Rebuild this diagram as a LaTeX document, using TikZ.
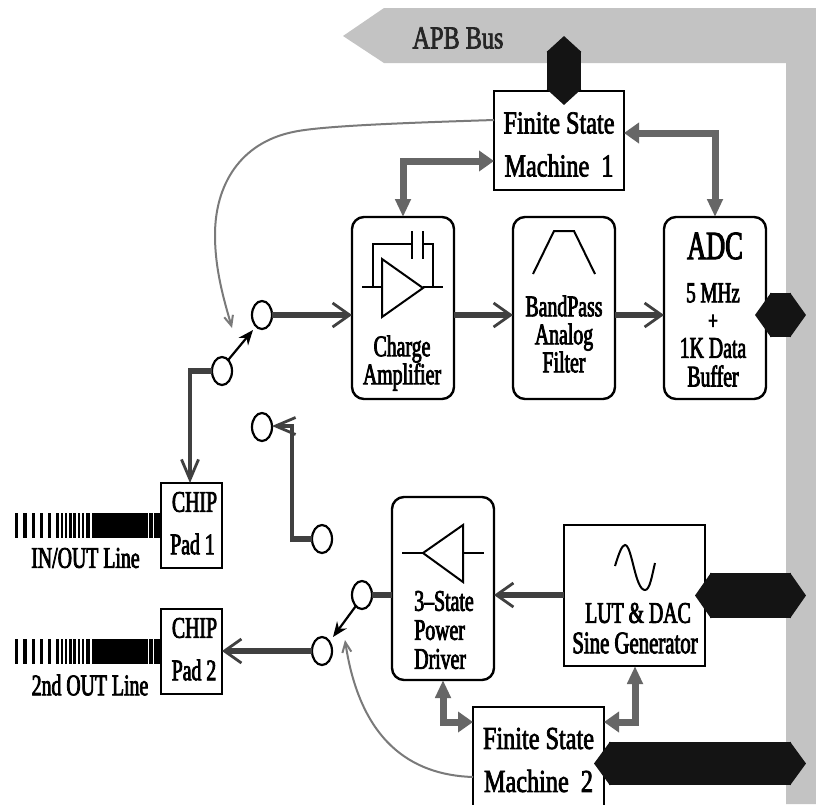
\documentclass[tikz,border=0pt]{standalone}
\usepackage{fontspec}
\setmainfont[FakeStretch=0.757,FakeBold=2.2]{Liberation Serif}
\newfontfamily\narrowf[FakeStretch=0.66,FakeBold=2.6]{Liberation Serif}
\usetikzlibrary{arrows.meta,calc,shapes.geometric}
\definecolor{busgray}{HTML}{C3C3C3}
\definecolor{ctrlgray}{HTML}{666666}
\definecolor{thingray}{HTML}{7A7A7A}
\definecolor{sig}{HTML}{404040}
\definecolor{inkblack}{HTML}{141414}
\newcommand{\fs}[1]{\fontsize{#1}{#1}\selectfont}
\newcommand{\ns}[1]{\narrowf\fontsize{#1}{#1}\selectfont}
\tikzset{
  x=1pt,y=-1pt,
  every node/.style={inner sep=0pt,outer sep=0pt},
  sq/.style={draw=black,line width=2.4pt,fill=white,rectangle},
  rnd/.style={draw=black,line width=2.4pt,fill=white,rectangle,rounded corners=12pt,minimum width=102pt,minimum height=182pt},
  txt/.style={align=center,font=\ns{30}},
  big/.style={align=center,font=\fontsize{32}{43}\selectfont},
  sw/.style={draw=black,line width=2.2pt,fill=white,ellipse,minimum width=20pt,minimum height=28pt},
  glyph/.style={draw=black,line width=2pt,line join=miter},
  sigline/.style={draw=sig,line width=6.5pt},
  sigthin/.style={draw=sig,line width=4.5pt},
  barb/.style={-{Straight Barb[length=17pt,width=24pt,line width=2.8pt]}},
  barbn/.style={-{Straight Barb[length=20pt,width=17pt,line width=2.8pt]}},
  ctrl/.style={draw=ctrlgray,line width=7pt},
  vh/.style={ctrl,{Triangle[length=18pt,width=15pt]}-{Triangle[length=15pt,width=20pt]}},
  ctrlw/.style={draw=thingray,line width=2pt,-{Straight Barb[length=10pt,width=9pt,line width=2pt]}},
  swarrow/.style={draw=black,line width=2.2pt,-{Stealth[length=15pt,width=12pt]}},
  hbus/.style={draw=inkblack,line width=#1,{Triangle[length=16pt,width=#1]}-{Triangle[length=16pt,width=#1]}},
}
\begin{document}
\begin{tikzpicture}
\useasboundingbox (0,0) rectangle (816,804);
\clip (0,0) rectangle (816,804);
\fill[white] (0,0) rectangle (816,804);
% bus
\fill[busgray] (343,36) -- (384,8) -- (816,8) -- (816,804) -- (786,804) -- (786,63) -- (384,63) -- cycle;
\node[font=\fs{32},text=black!85,anchor=center] (apb) at (458,38) {APB Bus};
% boxes
\node[sq,minimum width=130pt,minimum height=99pt] (fsm1) at (559,140.5) {};
\node[big] (fsm1t) at (559,144.5) {Finite State\\Machine\ \ 1};
\node[rnd] (charge) at (403,308) {};
\node[rnd] (filter) at (564,308) {};
\node[rnd] (adc) at (715,308) {};
\node[rnd,minimum height=183pt] (driver) at (443,588.5) {};
\node[sq,minimum width=141pt,minimum height=141pt] (lut) at (634.5,595.5) {};
\node[sq,minimum width=131pt,minimum height=120pt] (fsm2) at (538.5,767) {};
\node[big] (fsm2t) at (538.5,760) {Finite State\\Machine\ \ 2};
\node[sq,minimum width=61pt,minimum height=85pt] (pad1) at (191.5,525.5) {};
\node[sq,minimum width=61pt,minimum height=85pt] (pad2) at (191.5,651.5) {};
% labels
\node[txt] (chargeT) at (402,363) {Charge\\[-2pt]Amplifier};
\node[txt] (filterT) at (564,334) {BandPass\\[-2pt]Analog\\[-2pt]Filter};
\node[font=\ns{40}] (adcT) at (715,246) {ADC};
\node[font=\ns{29}] (adcA) at (713,293) {5 MHz};
\node[font=\ns{26}] (adcB) at (713,322) {+};
\node[font=\ns{30}] (adcC) at (713,348) {1K Data};
\node[font=\ns{30}] (adcD) at (713,376) {Buffer};
\node[txt,align=left] (driverT) at (444,630) {3–State\\[-1pt]Power\\[-1pt]Driver};
\node[font=\ns{30}] (lutA) at (638,613) {LUT \& DAC};
\node[font=\ns{31.5}] (lutB) at (635,643) {Sine Generator};
\node[font=\ns{30}] (pad1a) at (194.5,502) {CHIP};
\node[font=\ns{30}] (pad1b) at (192.5,544) {Pad 1};
\node[font=\ns{30}] (pad2a) at (194.5,628) {CHIP};
\node[font=\ns{30}] (pad2b) at (194,670) {Pad 2};
\node[font=\ns{30}] (l1) at (85.5,558) {IN/OUT Line};
\node[font=\ns{30}] (l2) at (90,685) {2nd OUT Line};
% stripes
\foreach \a/\b in {15/18.3,23.3/26.7,31.7/35,40/43.3,47.7/51,56/59.3,60.7/63.3,65/67.3,69.3/71.7,73.3/75.7,77.7/80,81.7/84,86/90,91.7/148.3,149.3/152.7,154/161}
  \fill[black] (\a,513) rectangle (\b,538);
\foreach \a/\b in {15/18.3,23.3/26.7,31.7/35,40/43.3,47.7/51,56/59.3,60.7/63.3,65/67.3,69.3/71.7,73.3/75.7,77.7/80,81.7/84,86/90,91.7/148.3,149.3/152.7,154/161}
  \fill[black] (\a,639) rectangle (\b,664);
% symbols
\draw[glyph] (382,259) -- (382,317) -- (423,288) -- cycle;
\draw[glyph] (362,287) -- (382,287) (423,287) -- (443,287);
\draw[glyph] (373,287) -- (373,244) -- (412,244) (412,231) -- (412,259);
\draw[glyph] (423,231) -- (423,259) (423,244) -- (433,244) -- (433,287);
\draw[glyph] (533,274) -- (554,231) -- (574,231) -- (595,274);
\draw[glyph] (463,525) -- (463,582) -- (423,553) -- cycle;
\draw[glyph] (402,553) -- (423,553) (463,553) -- (484,553);
\draw[glyph] (615,566) .. controls (619,553) and (622,545) .. (625,545) .. controls (632,545) and (635,590) .. (645,590) .. controls (650,590) and (652,575) .. (655,563);
% switches
\node[sw] (s1) at (262,315) {};
\node[sw] (s2) at (222,371) {};
\node[sw] (s3) at (262,427) {};
\node[sw] (s4) at (322,539) {};
\node[sw] (s5) at (362,595) {};
\node[sw] (s6) at (322,651) {};
% signal connectors
\draw[sigline,barb] (s1.east) -- (charge.west |- s1.east);
\draw[sigline,barb] (charge.east |- s1.east) -- (filter.west |- s1.east);
\draw[sigline,barb] (filter.east |- s1.east) -- (adc.west |- s1.east);
\draw[sigline] (s2.west) -- (190,371);
\draw[sigthin,barbn] (190,368) -- (pad1.north -| 190,0);
\draw[sigline] (s4.west) -- (292,539);
\draw[sigthin,barbn] (292,542) -- (292,426) -- (s3.east |- 0,426);
\draw[sigline] (s5.east) -- (driver.west |- s5.east);
\draw[sigline,barb] (lut.west |- 0,595) -- (driver.east |- 0,595);
\draw[sigline,barb] (s6.west) -- (pad2.east |- s6.west);
% switch arms
\draw[swarrow] (s2.north east) ++(-1,-1) -- (253,330);
\draw[swarrow] (s5.south west) ++(1,1) -- (333,637);
% control
\draw[vh] (charge.north) -- (403,161) -- (fsm1.west |- 0,161);
\draw[vh] (adc.north) -- (715,133) -- (fsm1.east |- 0,133);
\draw[vh] (driver.south) -- (443,722) -- (fsm2.west |- 0,722);
\draw[vh] (lut.south -| 635,0) -- (635,722) -- (fsm2.east |- 0,722);
% thin gray curves
\draw[ctrlw] (fsm1.west |- 0,120) .. controls (400,123) and (320,126) .. (293,132) .. controls (240,143) and (215,185) .. (215,235) .. controls (215,270) and (224,300) .. (232,328);
\draw[ctrlw] (fsm2.west |- 0,777) .. controls (410,775) and (360,740) .. (345,640);
% APB links
\coordinate (b1) at (564,36);
\coordinate (b2) at (806,315);
\coordinate (b3) at (806,595.5);
\coordinate (b4) at (806,763.5);
\draw[hbus=34pt,shorten <=-14pt] (fsm1.north -| b1) -- (b1);
\draw[hbus=44pt,shorten <=-11pt] (adc.east |- b2) -- (b2);
\draw[hbus=45pt,shorten <=-10pt] (lut.east |- b3) -- (b3);
\draw[hbus=43pt,shorten <=-10pt] (fsm2.east |- b4) -- (b4);
\end{tikzpicture}
\end{document}
